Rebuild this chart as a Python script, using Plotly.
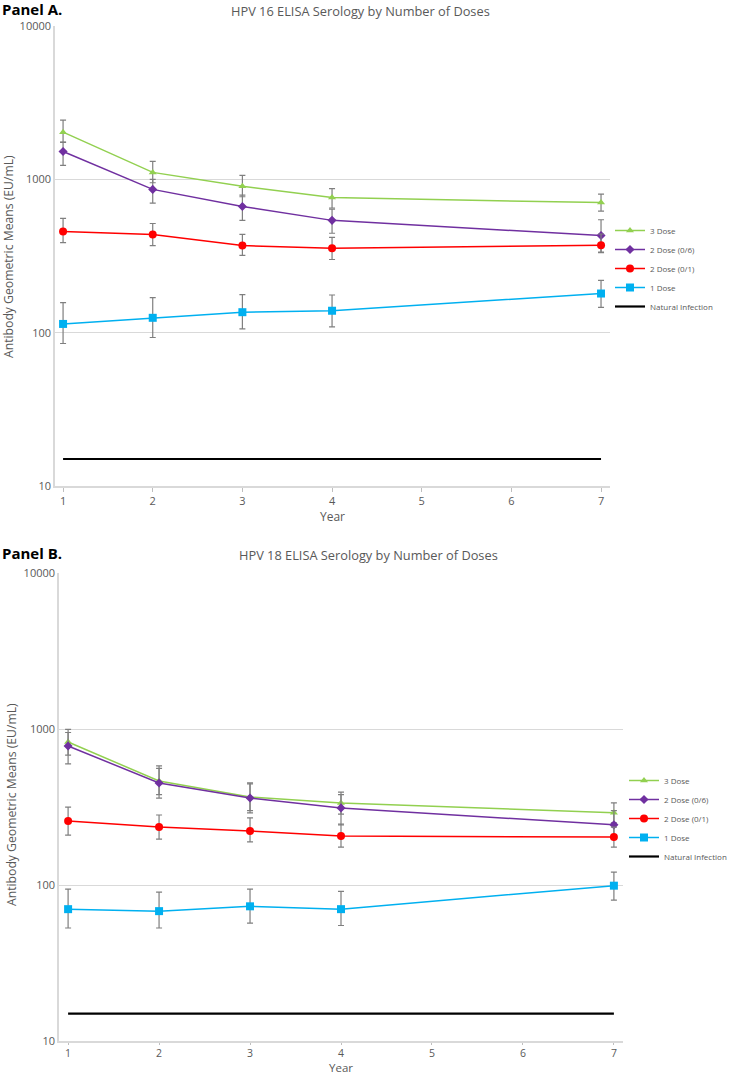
import plotly.graph_objects as go

W, H = 730, 1077

years = [1, 2, 3, 4, 7]
series_names = ["3 Dose", "2 Dose (0/6)", "2 Dose (0/1)", "1 Dose", "Natural Infection"]

# Panel A: HPV 16
a_3dose = [2030, 1110, 900, 760, 705]
a_3dose_hi = [2430, 1310, 1060, 870, 800]
a_3dose_lo = [1740, 950, 770, 650, 620]
a_2d06 = [1520, 860, 665, 540, 430]
a_2d06_hi = [1750, 1000, 790, 640, 545]
a_2d06_lo = [1235, 700, 540, 445, 335]
a_2d01 = [457, 437, 370, 355, 372]
a_2d01_hi = [556, 515, 437, 418, 440]
a_2d01_lo = [387, 370, 319, 300, 333]
a_1dose = [114, 125, 136, 139, 180]
a_1dose_hi = [157, 169, 177, 176, 219]
a_1dose_lo = [85, 93, 106, 109, 146]
a_natural = [15, 15, 15, 15, 15]

# Panel B: HPV 18
b_3dose = [826, 464, 366, 336, 290]
b_3dose_hi = [995, 580, 451, 394, 336]
b_3dose_lo = [680, 380, 300, 285, 250]
b_2d06 = [778, 451, 361, 312, 243]
b_2d06_hi = [950, 560, 445, 380, 300]
b_2d06_lo = [597, 360, 290, 243, 200]
b_2d01 = [257, 235, 222, 206, 203]
b_2d01_hi = [316, 281, 269, 246, 235]
b_2d01_lo = [209, 197, 189, 175, 175]
b_1dose = [70, 68, 73, 70, 99]
b_1dose_hi = [94, 90, 94, 91, 121]
b_1dose_lo = [53, 53, 57, 55, 80]
b_natural = [15, 15, 15, 15, 15]

colors = ["#92D050", "#7030A0", "#FF0000", "#00B0F0", "#000000"]
symbols = ["triangle-up", "diamond", "circle", "square", None]
msizes = [7, 7, 8, 8, 0]
FONT = "Open Sans"
GRAY = "#595959"

fig = go.Figure()


def add_panel(vals, his, los, natural, xa, ya, legend):
    for i in range(4):
        v, hi, lo = vals[i], his[i], los[i]
        fig.add_trace(go.Scatter(
            x=years, y=v, name=series_names[i], mode="lines+markers",
            line=dict(color=colors[i], width=1.5),
            marker=dict(symbol=symbols[i], size=msizes[i], color=colors[i]),
            error_y=dict(type="data", symmetric=False,
                         array=[h - y for h, y in zip(hi, v)],
                         arrayminus=[y - l for l, y in zip(lo, v)],
                         color="#7f7f7f", thickness=1.2, width=3),
            xaxis=xa, yaxis=ya, legend=legend))
    fig.add_trace(go.Scatter(
        x=years, y=natural, name=series_names[4], mode="lines",
        line=dict(color=colors[4], width=2.2),
        xaxis=xa, yaxis=ya, legend=legend))


add_panel([a_3dose, a_2d06, a_2d01, a_1dose], [a_3dose_hi, a_2d06_hi, a_2d01_hi, a_1dose_hi],
          [a_3dose_lo, a_2d06_lo, a_2d01_lo, a_1dose_lo], a_natural, "x", "y", "legend")
add_panel([b_3dose, b_2d06, b_2d01, b_1dose], [b_3dose_hi, b_2d06_hi, b_2d01_hi, b_1dose_hi],
          [b_3dose_lo, b_2d06_lo, b_2d01_lo, b_1dose_lo], b_natural, "x2", "y2", "legend2")


def px_x(p):
    return p / W


def px_y(p):
    return 1 - p / H


xcommon = dict(tickmode="array", tickvals=[1, 2, 3, 4, 5, 6, 7], ticks="outside",
               tickcolor="#bfbfbf", showline=True, linecolor="#d9d9d9", linewidth=1.5,
               showgrid=False, zeroline=False, automargin=False)
ycommon = dict(type="log", range=[1, 4], tickvals=[10, 100, 1000, 10000],
               ticktext=["10", "100", "1000", "10000"], ticks="",
               showline=True, linecolor="#d9d9d9", linewidth=1.5, automargin=False,
               showgrid=True, gridcolor="#d9d9d9", gridwidth=1, zeroline=False,
               tickfont=dict(family=FONT, size=11, color=GRAY))

fig.update_layout(
    width=W, height=H, margin=dict(l=0, r=0, t=0, b=0, autoexpand=False),
    paper_bgcolor="white", plot_bgcolor="white",
    font=dict(family=FONT, color=GRAY),
    xaxis=dict(domain=[px_x(55), px_x(610)], range=[0.91, 7.1], anchor="y", ticklen=4,
               tickfont=dict(family=FONT, size=11, color=GRAY), **xcommon),
    yaxis=dict(domain=[px_y(486), px_y(26)], anchor="x", **ycommon),
    xaxis2=dict(domain=[px_x(59), px_x(623)], range=[0.90, 7.1], anchor="y2", ticklen=2,
                tickfont=dict(family=FONT, size=10.5, color=GRAY), **xcommon),
    yaxis2=dict(domain=[px_y(1041), px_y(573)], anchor="x2", **ycommon),
    legend=dict(x=px_x(610), y=px_y(216), xanchor="left", yanchor="top",
                bgcolor="rgba(0,0,0,0)", font=dict(family=FONT, size=8, color=GRAY),
                itemwidth=30),
    legend2=dict(x=px_x(624), y=px_y(766), xanchor="left", yanchor="top",
                 bgcolor="rgba(0,0,0,0)", font=dict(family=FONT, size=8, color=GRAY),
                 itemwidth=30),
    showlegend=True,
)

ann = [
    dict(text="<b>Panel A.</b>", x=0, y=px_y(9), xanchor="left", yanchor="middle",
         font=dict(family=FONT, size=15, color="#000000")),
    dict(text="HPV 16 ELISA Serology by Number of Doses", x=px_x(360), y=px_y(11),
         xanchor="center", yanchor="middle", font=dict(family=FONT, size=12.8, color=GRAY)),
    dict(text="Antibody Geometric Means (EU/mL)", x=px_x(8), y=px_y(257), textangle=-90,
         xanchor="center", yanchor="middle", font=dict(family=FONT, size=12.2, color=GRAY)),
    dict(text="Year", x=px_x(332), y=px_y(516), xanchor="center", yanchor="middle",
         font=dict(family=FONT, size=12, color=GRAY)),
    dict(text="<b>Panel B.</b>", x=0, y=px_y(553), xanchor="left", yanchor="middle",
         font=dict(family=FONT, size=15, color="#000000")),
    dict(text="HPV 18 ELISA Serology by Number of Doses", x=px_x(368), y=px_y(555),
         xanchor="center", yanchor="middle", font=dict(family=FONT, size=12.8, color=GRAY)),
    dict(text="Antibody Geometric Means (EU/mL)", x=px_x(11), y=px_y(805), textangle=-90,
         xanchor="center", yanchor="middle", font=dict(family=FONT, size=12.2, color=GRAY)),
    dict(text="Year", x=px_x(341), y=0, xanchor="center", yanchor="bottom",
         font=dict(family=FONT, size=11.5, color=GRAY)),
]
for a in ann:
    a.update(xref="paper", yref="paper", showarrow=False)
fig.update_layout(annotations=ann)

fig.write_html("out.html", config={"displayModeBar": False},
               post_script="document.body.style.margin='0px';document.body.style.overflow='hidden';")
